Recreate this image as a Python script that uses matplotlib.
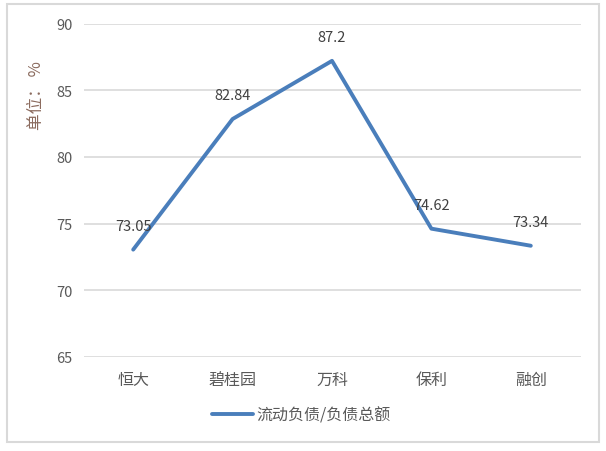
import matplotlib
matplotlib.use('Agg')
import matplotlib.pyplot as plt
from matplotlib.patches import Rectangle

plt.rcParams['font.family'] = ['Noto Sans CJK SC', 'DejaVu Sans']

companies = ['恒大', '碧桂园', '万科', '保利', '融创']
ratio = [73.05, 82.84, 87.2, 74.62, 73.34]
labels = ['73.05', '82.84', '87.2', '74.62', '73.34']
yticks = [65, 70, 75, 80, 85, 90]

fig = plt.figure(figsize=(6.06, 4.52), dpi=100)
W, H = 606, 452
ax = fig.add_axes([83.5 / W, 1 - 358 / H, (580.5 - 83.5) / W, (358 - 24.5) / H])

line_color = '#4A7EBB'
x = list(range(len(companies)))
ax.plot(x, ratio, color=line_color, lw=2.8, solid_capstyle='round',
        solid_joinstyle='round', label='流动负债/负债总额', zorder=3)

for xi, yi, t in zip(x, ratio, labels):
    ax.annotate(t, (xi, yi), xytext=(0, 17), textcoords='offset points',
                ha='center', va='center', fontsize=10.5, color='#404040')

ax.set_xlim(-0.5, len(companies) - 0.5)
ax.set_ylim(65, 90)
ax.set_yticks(yticks)
ax.set_xticks(x)
ax.set_xticklabels(companies, fontsize=11.5)
ax.tick_params(axis='both', length=0, colors='#595959')
ax.tick_params(axis='y', pad=8, labelsize=10.5)
ax.tick_params(axis='x', pad=10)
ax.grid(axis='y', color='#D9D9D9', lw=1.2)
ax.set_axisbelow(True)
for s in ax.spines.values():
    s.set_visible(False)

fig.text(36 / W, 1 - 96 / H, '单位： %', rotation=90, ha='center', va='center',
         fontsize=12, color='#8B6B5E')

leg = fig.legend(loc='center', bbox_to_anchor=(301 / W, 1 - 416 / H),
                 frameon=False, fontsize=11.5, handlelength=2.6, handletextpad=0.2)
for t in leg.get_texts():
    t.set_color('#595959')

fig.patches.append(Rectangle((7 / W, 1 - 443 / H), (599 - 7) / W, (443 - 5) / H,
                             transform=fig.transFigure, fill=False,
                             edgecolor='#D9D9D9', lw=1.5))

fig.savefig('out.png', dpi=100)
